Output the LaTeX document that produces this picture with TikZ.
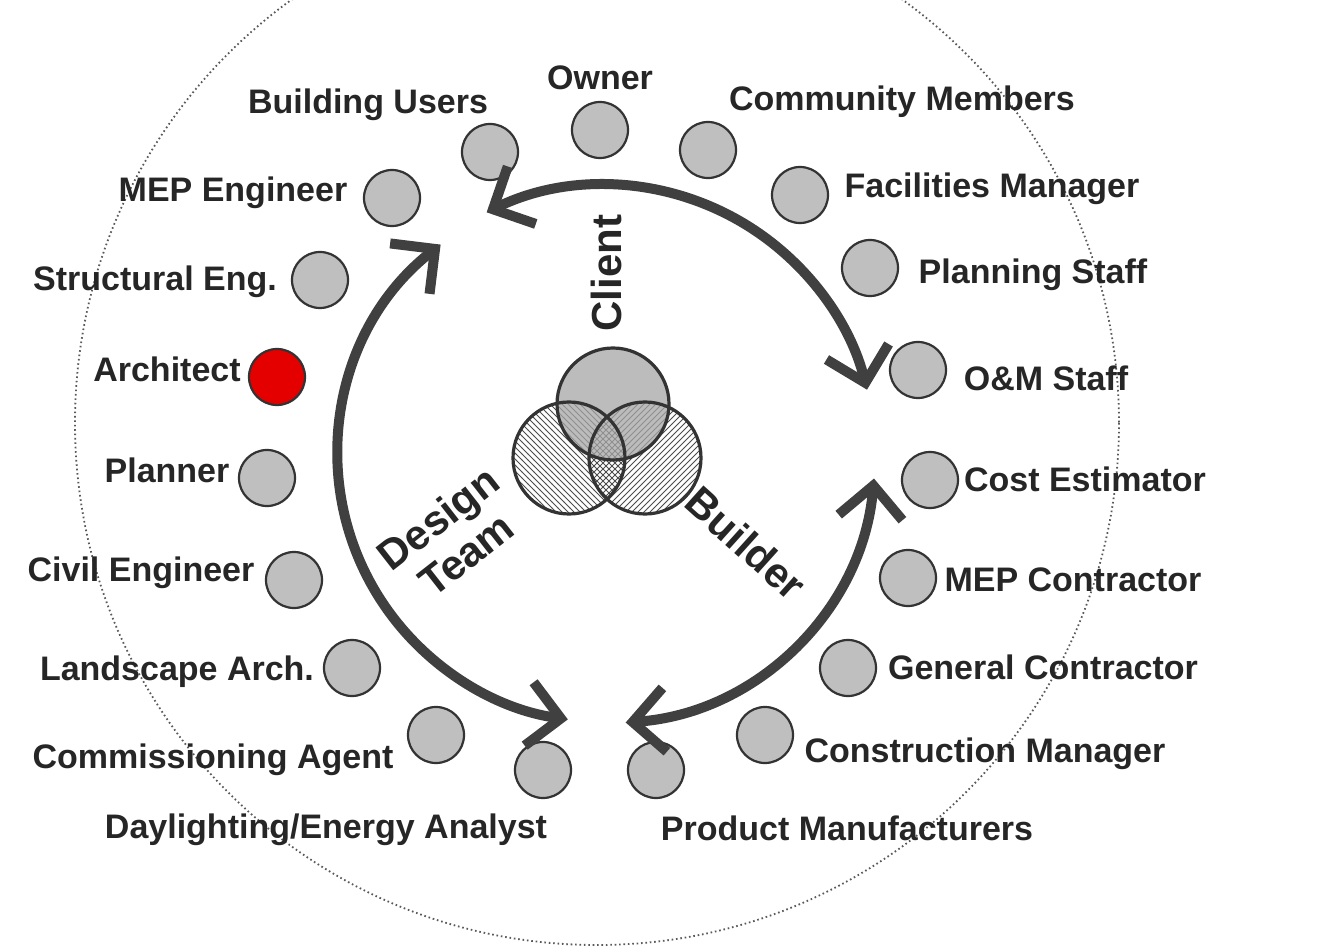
\documentclass[tikz,border=0pt]{standalone}
\usepackage{fontspec}
\setmainfont{Liberation Sans}
\usetikzlibrary{arrows.meta,patterns}
\begin{document}
\begin{tikzpicture}[x=0.5pt,y=-0.5pt,
  member/.style={circle,draw=black!80,line width=1.1pt,fill=black!25,minimum size=28pt,inner sep=0pt},
  keymember/.style={member,fill=red!90!black},
  lbl/.style={font=\fontsize{17}{19}\selectfont\bfseries,text=black!85,inner sep=0pt},
  role/.style={font=\fontsize{21}{23}\selectfont\bfseries,text=black!85,inner sep=0pt,align=center},
  venn/.style={circle,minimum size=56pt,inner sep=0pt},
  flow/.style={line width=5pt,draw=black!75,arrows={Straight Barb[length=16pt,width=32pt]-Straight Barb[length=16pt,width=32pt]}},
]
\useasboundingbox (0,0) rectangle (1329,952);
\fill[white] (0,0) rectangle (1329,952);
\begin{scope}
\clip (0,0) rectangle (1329,952);
\draw[black!65,line width=0.9pt,dash pattern=on 0.8pt off 1.4pt] (597,423) circle[radius=522];
\end{scope}

% member circles
\node[member] (bu) at (490,152) {};
\node[member] (ow) at (600,130) {};
\node[member] (cm) at (708,150) {};
\node[member] (fm) at (800,195) {};
\node[member] (ps) at (870,268) {};
\node[member] (om) at (918,370) {};
\node[member] (ce) at (930,480) {};
\node[member] (mc) at (908,578) {};
\node[member] (gc) at (848,668) {};
\node[member] (cmg) at (765,735) {};
\node[member] (pm) at (656,770) {};
\node[member] (da) at (543,770) {};
\node[member] (ca) at (436,735) {};
\node[member] (la) at (352,668) {};
\node[member] (cv) at (294,580) {};
\node[member] (pl) at (267,478) {};
\node[keymember] (ar) at (277,377) {};
\node[member] (se) at (320,280) {};
\node[member] (me) at (392,198) {};

% labels
\node[lbl] (tow) at (600,78) {Owner};
\node[lbl] (tbu) at (368,105) {Building Users};
\node[lbl] (tcm) at (902,102) {Community Members};
\node[lbl] (tme) at (233,193) {MEP Engineer};
\node[lbl] (tfm) at (992,189) {Facilities Manager};
\node[lbl] (tse) at (155,282) {Structural Eng.};
\node[lbl] (tps) at (1033,275) {Planning Staff};
\node[lbl] (tar) at (167,369) {Architect};
\node[lbl] (tom) at (1046,378) {O\&M Staff};
\node[lbl] (tpl) at (167,470) {Planner};
\node[lbl] (tce) at (1085,479) {Cost Estimator};
\node[lbl] (tcv) at (141,573) {Civil Engineer};
\node[lbl] (tmc) at (1073,580) {MEP Contractor};
\node[lbl] (tla) at (177,672) {Landscape Arch.};
\node[lbl] (tgc) at (1043,667) {General Contractor};
\node[lbl] (tca) at (213,760) {Commissioning Agent};
\node[lbl] (tcmg) at (985,754) {Construction Manager};
\node[lbl] (tda) at (326,830) {Daylighting/Energy Analyst};
\node[lbl] (tpm) at (847,828) {Product Manufacturers};

% central Venn
\node[venn,pattern=north west lines,pattern color=black!70] (design) at (569,458) {};
\node[venn,pattern=north east lines,pattern color=black!70] (builder) at (645,458) {};
\node[venn,fill=black!35,fill opacity=0.75] (client) at (613,404) {};
\foreach \c in {design,builder,client}
  \draw[black!80,line width=1.6pt] (\c) circle[radius=56];

% role labels
\node[role,rotate=90] (tclient) at (606,273) {Client};
\node[role,rotate=38] (tdesign) at (452,536) {Design\\Team};
\node[role,rotate=-42] (tbuilder) at (746,543) {Builder};

% flow arrows
\coordinate (hub) at (605,455);
\draw[flow] (hub) ++(-116:270) coordinate (f1a) arc[start angle=-116,end angle=-14,radius=270] coordinate (f1b);
\draw[flow] (hub) ++(-128:267) coordinate (f2a) arc[start angle=-128,end angle=-262,radius=267] coordinate (f2b);
\draw[flow] (hub) ++(5:270) coordinate (f3a) arc[start angle=5,end angle=86,radius=268] coordinate (f3b);
\end{tikzpicture}
\end{document}
